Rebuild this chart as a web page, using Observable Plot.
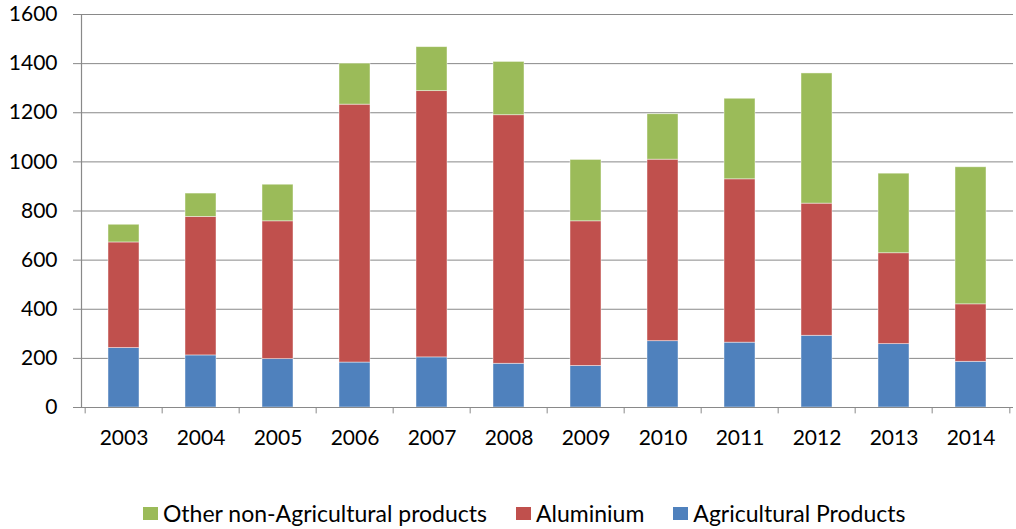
<!DOCTYPE html>
<html>
<head>
<meta charset="utf-8">
<script src="https://cdn.jsdelivr.net/npm/d3@7"></script>
<script src="https://cdn.jsdelivr.net/npm/@observablehq/plot@0.6"></script>
<style>
  body { margin: 0; background: #fff; font-family: Lato, sans-serif; }
  #legend { display: flex; justify-content: flex-start; align-items: center; font-size: 23px; color: #000; height: 26px; padding-top: 20px; padding-left: 143px; }
  #legend .item { display: flex; align-items: center; margin-right: 29px; }
  #legend .sw { width: 15px; height: 13px; margin-right: 5px; }
</style>
</head>
<body>
<div id="chart"></div>
<div id="legend"></div>
<script>
const years = ["2003","2004","2005","2006","2007","2008","2009","2010","2011","2012","2013","2014"];
const agricultural = [242, 212, 197, 183, 204, 178, 169, 270, 264, 292, 258, 186];
const aluminium    = [430, 564, 561, 1050, 1084, 1012, 589, 739, 665, 538, 370, 234];
const other        = [72, 95, 149, 167, 179, 217, 250, 185, 328, 530, 324, 558];
const seriesNames  = ["Agricultural Products", "Aluminium", "Other non-Agricultural products"];
const seriesColors = ["#4F81BD", "#C0504D", "#9BBB59"];
const yTicks = [0, 200, 400, 600, 800, 1000, 1200, 1400, 1600];

const seriesValues = [agricultural, aluminium, other];
const data = [];
years.forEach((yr, i) => {
  seriesNames.forEach((s, k) => data.push({year: yr, series: s, value: seriesValues[k][i]}));
});

const W = 1016, H = 480, mL = 81, mR = 3, mT = 14, mB = 73;
const step = (W - mL - mR) / years.length;
const grey = "#898989";

const chart = Plot.plot({
  width: W, height: H,
  marginLeft: mL, marginRight: mR, marginTop: mT, marginBottom: mB,
  style: {fontFamily: "Lato, sans-serif", fontSize: "21px", color: "#000", background: "#fff"},
  x: {domain: years, paddingInner: 0.6, paddingOuter: 0.3, label: null},
  y: {domain: [0, 1600], label: null},
  color: {domain: seriesNames, range: seriesColors},
  marks: [
    Plot.gridY(yTicks, {stroke: grey, strokeOpacity: 1, strokeWidth: 1}),
    Plot.axisY(yTicks, {tickSize: 8, tickPadding: 16, stroke: grey, label: null, fill: "#000", tickFormat: d => String(d)}),
    Plot.barY(data, {x: "year", y: "value", fill: "series", order: null,
      stroke: "#fff", strokeOpacity: 0.55, strokeWidth: 0.8}),
    Plot.axisX({tickSize: 0, tickPadding: 23, label: null, fill: "#000"}),
    Plot.ruleX(years, {x: d => d, dx: -step / 2, y1: 0, y2: -26, stroke: grey, strokeWidth: 1}),
    Plot.ruleX([years[years.length - 1]], {x: d => d, dx: step / 2, y1: 0, y2: -26, stroke: grey, strokeWidth: 1}),
    Plot.ruleY([0], {stroke: grey, strokeWidth: 1.2}),
    Plot.frame({anchor: "left", stroke: grey, strokeWidth: 1.2})
  ]
});
document.getElementById("chart").appendChild(chart);

const legendOrder = [2, 1, 0];
const legend = document.getElementById("legend");
legendOrder.forEach(k => {
  const item = document.createElement("div");
  item.className = "item";
  const sw = document.createElement("span");
  sw.className = "sw";
  sw.style.background = seriesColors[k];
  const t = document.createElement("span");
  t.textContent = seriesNames[k];
  item.appendChild(sw); item.appendChild(t);
  legend.appendChild(item);
});
</script>
</body>
</html>
